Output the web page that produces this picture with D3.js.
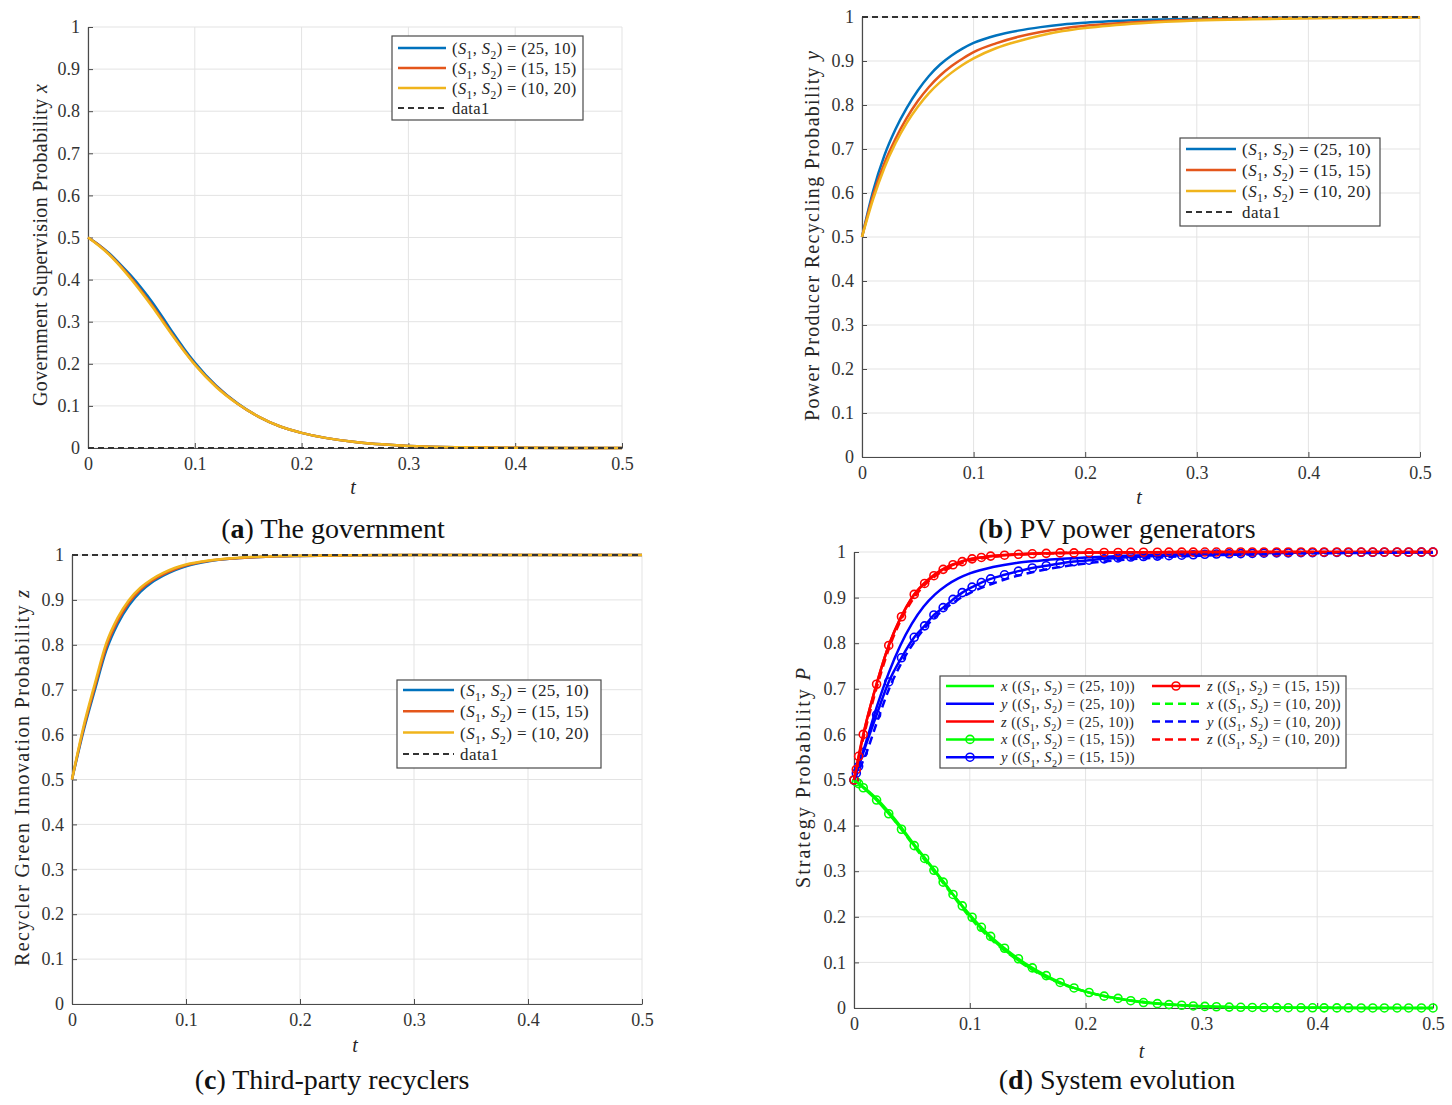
<!DOCTYPE html>
<html>
<head>
<meta charset="utf-8">
<script src="https://cdn.jsdelivr.net/npm/d3@7"></script>
<style>
body { margin: 0; background: #fff; }
svg text { font-family: "Liberation Serif", "Times New Roman", serif; fill: #262626; }
</style>
</head>
<body>
<script>
// ---- data ----
var tGrid = [0, 0.01, 0.02, 0.03, 0.04, 0.05, 0.06, 0.07, 0.08, 0.09, 0.1, 0.12, 0.14, 0.16, 0.18, 0.2, 0.25, 0.3, 0.35, 0.4, 0.45, 0.5];

// (a) government x
var govX_25_10 = [0.5, 0.483, 0.462, 0.437, 0.41, 0.38, 0.347, 0.31, 0.272, 0.236, 0.203, 0.148, 0.106, 0.074, 0.051, 0.036, 0.014, 0.005, 0.0017, 0.0006, 0.0002, 0.0001];
var govX_15_15 = [0.5, 0.482, 0.46, 0.434, 0.405, 0.373, 0.339, 0.303, 0.266, 0.231, 0.199, 0.146, 0.105, 0.074, 0.051, 0.036, 0.014, 0.005, 0.0017, 0.0006, 0.0002, 0.0001];
var govX_10_20 = [0.5, 0.481, 0.459, 0.432, 0.402, 0.37, 0.336, 0.3, 0.264, 0.23, 0.198, 0.145, 0.105, 0.074, 0.051, 0.036, 0.014, 0.005, 0.0017, 0.0006, 0.0002, 0.0001];

// (b) PV power generators y
var pvY_25_10 = [0.5, 0.605, 0.685, 0.745, 0.793, 0.833, 0.866, 0.892, 0.912, 0.928, 0.941, 0.958, 0.969, 0.977, 0.983, 0.987, 0.993, 0.996, 0.998, 0.999, 0.9995, 0.9997];
var pvY_15_15 = [0.5, 0.595, 0.667, 0.723, 0.77, 0.809, 0.841, 0.867, 0.888, 0.905, 0.92, 0.94, 0.955, 0.966, 0.974, 0.98, 0.989, 0.994, 0.997, 0.998, 0.999, 0.9995];
var pvY_10_20 = [0.5, 0.586, 0.657, 0.713, 0.759, 0.796, 0.827, 0.852, 0.873, 0.891, 0.906, 0.929, 0.945, 0.958, 0.968, 0.975, 0.986, 0.992, 0.995, 0.997, 0.998, 0.999];

// (c) third-party recyclers z
var recZ_25_10 = [0.5, 0.607, 0.699, 0.787, 0.846, 0.888, 0.918, 0.939, 0.954, 0.966, 0.975, 0.986, 0.992, 0.995, 0.997, 0.998, 0.9995, 0.9999, 1, 1, 1, 1];
var recZ_15_15 = [0.5, 0.612, 0.706, 0.795, 0.853, 0.894, 0.923, 0.943, 0.957, 0.968, 0.977, 0.987, 0.992, 0.995, 0.997, 0.998, 0.9995, 0.9999, 1, 1, 1, 1];
var recZ_10_20 = [0.5, 0.617, 0.713, 0.803, 0.86, 0.9, 0.927, 0.946, 0.96, 0.971, 0.979, 0.988, 0.993, 0.996, 0.9975, 0.9985, 0.9996, 0.9999, 1, 1, 1, 1];

// dashed reference lines ("data1")
var refT = [0, 0.5];
var refZero = [0, 0];
var refOne = [1, 1];

// (d) system evolution, (25,10) solid and (10,20) dashed on tGrid
var sysX_25_10 = [0.5, 0.481, 0.458, 0.43, 0.399, 0.365, 0.333, 0.301, 0.268, 0.234, 0.202, 0.149, 0.108, 0.076, 0.053, 0.036, 0.013, 0.004, 0.0013, 0.0005, 0.0002, 0.0001];
var sysY_25_10 = [0.5, 0.58, 0.663, 0.735, 0.795, 0.843, 0.88, 0.907, 0.927, 0.942, 0.953, 0.967, 0.976, 0.981, 0.985, 0.988, 0.993, 0.996, 0.998, 0.999, 0.9995, 0.9997];
var sysZ_25_10 = [0.5, 0.62, 0.715, 0.795, 0.855, 0.9, 0.93, 0.952, 0.967, 0.977, 0.984, 0.991, 0.995, 0.997, 0.998, 0.9988, 0.9996, 0.9999, 1, 1, 1, 1];
var sysX_10_20 = [0.5, 0.48, 0.456, 0.427, 0.395, 0.361, 0.328, 0.296, 0.264, 0.231, 0.199, 0.147, 0.107, 0.075, 0.052, 0.036, 0.013, 0.004, 0.0013, 0.0005, 0.0002, 0.0001];
var sysY_10_20 = [0.5, 0.555, 0.628, 0.698, 0.752, 0.795, 0.83, 0.857, 0.878, 0.896, 0.91, 0.931, 0.947, 0.959, 0.968, 0.975, 0.986, 0.992, 0.995, 0.997, 0.998, 0.999];
var sysZ_10_20 = [0.5, 0.612, 0.706, 0.787, 0.848, 0.893, 0.925, 0.947, 0.962, 0.973, 0.981, 0.989, 0.994, 0.996, 0.998, 0.9985, 0.9995, 0.9999, 1, 1, 1, 1];

// (d) (15,15) run with markers, at solver steps
var tD = [0, 0.002, 0.004, 0.008, 0.0195, 0.030, 0.041, 0.052, 0.061, 0.069,
          0.077, 0.0855, 0.0935, 0.102, 0.110, 0.118, 0.130, 0.142, 0.154, 0.166,
          0.178, 0.190, 0.203, 0.216, 0.228, 0.239, 0.250, 0.262, 0.272, 0.283,
          0.293, 0.303, 0.313, 0.324, 0.334, 0.344, 0.354, 0.365, 0.375, 0.386,
          0.396, 0.406, 0.417, 0.427, 0.438, 0.448, 0.458, 0.469, 0.479, 0.490,
          0.5];
var sysX_15_15 = [0.5, 0.496, 0.492, 0.483, 0.456, 0.426, 0.392, 0.356, 0.328, 0.302,
                  0.276, 0.249, 0.224, 0.199, 0.177, 0.157, 0.131, 0.108, 0.088, 0.071,
                  0.056, 0.044, 0.034, 0.026, 0.021, 0.016, 0.012, 0.0095, 0.0075, 0.006,
                  0.0045, 0.0035, 0.0027, 0.002, 0.0016, 0.0012, 0.001, 0.0008, 0.0006, 0.0005,
                  0.0004, 0.0003, 0.00025, 0.0002, 0.00015, 0.0001, 0.0001, 0.0001, 0.0001, 0.0001,
                  0.0001];
var sysY_15_15 = [0.5, 0.515, 0.53, 0.56, 0.643, 0.715, 0.768, 0.813, 0.838, 0.862,
                  0.878, 0.896, 0.911, 0.923, 0.933, 0.941, 0.95, 0.958, 0.965, 0.97,
                  0.975, 0.979, 0.982, 0.985, 0.987, 0.989, 0.99, 0.991, 0.992, 0.993,
                  0.994, 0.995, 0.9955, 0.996, 0.9965, 0.997, 0.9975, 0.998, 0.998, 0.9985,
                  0.9985, 0.999, 0.999, 0.999, 0.9993, 0.9993, 0.9995, 0.9995, 0.9996, 0.9997,
                  0.9997];
var sysZ_15_15 = [0.5, 0.523, 0.552, 0.6, 0.71, 0.795, 0.858, 0.907, 0.931, 0.948,
                  0.962, 0.972, 0.979, 0.985, 0.988, 0.991, 0.993, 0.995, 0.996, 0.997,
                  0.998, 0.998, 0.9985, 0.999, 0.999, 0.9993, 0.9995, 0.9996, 0.9997, 0.9998,
                  0.9998, 0.9999, 0.9999, 0.9999, 1, 1, 1, 1, 1, 1,
                  1, 1, 1, 1, 1, 1, 1, 1, 1, 1,
                  1];

var xTicks = [0, 0.1, 0.2, 0.3, 0.4, 0.5];
var xTickLabels = ["0", "0.1", "0.2", "0.3", "0.4", "0.5"];
var yTicks = [0, 0.1, 0.2, 0.3, 0.4, 0.5, 0.6, 0.7, 0.8, 0.9, 1];
var yTickLabels = ["0", "0.1", "0.2", "0.3", "0.4", "0.5", "0.6", "0.7", "0.8", "0.9", "1"];
var pairs = ["(25, 10)", "(15, 15)", "(10, 20)"];

// ---- drawing ----
var matBlue = "#0072bd", matOrange = "#e4561b", matYellow = "#f0b41c";
var serif = "'Liberation Serif', 'Times New Roman', serif";

var svg = d3.select("body").append("svg")
    .attr("width", 1452)
    .attr("height", 1105)
    .attr("font-family", serif);

function zip(ts, vs) { return ts.map(function(t, i) { return [t, vs[i]]; }); }

function makeAxes(box) {
    var x = d3.scaleLinear().domain([0, 0.5]).range([box.left, box.right]);
    var y = d3.scaleLinear().domain([0, 1]).range([box.bottom, box.top]);
    var g = svg.append("g");

    // grid
    g.append("g").selectAll("line").data(xTicks).join("line")
        .attr("x1", d => x(d)).attr("x2", d => x(d))
        .attr("y1", box.top).attr("y2", box.bottom)
        .style("stroke", "#e3e3e3").style("stroke-width", 1);
    g.append("g").selectAll("line").data(yTicks).join("line")
        .attr("y1", d => y(d)).attr("y2", d => y(d))
        .attr("x1", box.left).attr("x2", box.right)
        .style("stroke", "#e3e3e3").style("stroke-width", 1);

    var ax = g.append("g")
        .attr("transform", "translate(0," + box.bottom + ")")
        .call(d3.axisBottom(x).tickValues(xTicks)
            .tickFormat((d, i) => xTickLabels[i])
            .tickSizeInner(-5).tickSizeOuter(0).tickPadding(box.xpad || 9));
    var ay = g.append("g")
        .attr("transform", "translate(" + box.left + ",0)")
        .call(d3.axisLeft(y).tickValues(yTicks)
            .tickFormat((d, i) => yTickLabels[i])
            .tickSizeInner(-5).tickSizeOuter(0).tickPadding(8));
    [ax, ay].forEach(function(a) {
        a.attr("font-family", serif).attr("font-size", 18);
        a.select(".domain").style("stroke", "#4a4a4a").style("stroke-width", 1.2);
        a.selectAll(".tick line").style("stroke", "#4a4a4a");
        a.selectAll(".tick text")
            .style("font-family", serif)
            .style("font-size", "18px")
            .style("fill", "#333");
    });

    // t label
    g.append("text")
        .attr("x", (box.left + box.right) / 2 - 2)
        .attr("y", box.bottom + box.tlab)
        .attr("text-anchor", "middle")
        .style("font-size", "20px").style("font-style", "italic")
        .text("t");

    // y label
    var yl = g.append("text")
        .attr("transform", "translate(" + box.ylabX + "," + box.ylabY + ") rotate(-90)")
        .attr("text-anchor", "middle")
        .attr("dy", "0.35em")
        .attr("textLength", box.ylabLen).attr("lengthAdjust", "spacing")
        .style("font-size", "20px");
    yl.append("tspan").text(box.ylab + " ");
    yl.append("tspan").style("font-style", "italic").text(box.yvar);

    return { x: x, y: y, g: g };
}

function drawLine(ax, pts, color, width, dash) {
    var line = d3.line().x(d => ax.x(d[0])).y(d => ax.y(d[1])).curve(d3.curveMonotoneX);
    ax.g.append("path").datum(pts)
        .attr("d", line)
        .style("fill", "none")
        .style("stroke", color)
        .style("stroke-width", width)
        .style("stroke-dasharray", dash || null)
        .style("stroke-linejoin", "round");
}

function pairLabel(g, x, y, size, spacing, prefix, pair) {
    var sub = size * 0.3;
    var t = g.append("text").attr("x", x).attr("y", y).attr("dy", "0.35em")
        .style("font-size", size + "px").style("letter-spacing", spacing + "px");
    if (prefix) {
        t.append("tspan").style("font-style", "italic").text(prefix);
        t.append("tspan").text(" ((");
    } else {
        t.append("tspan").text("(");
    }
    t.append("tspan").style("font-style", "italic").text("S");
    t.append("tspan").attr("dy", sub).style("font-size", (size * 0.7) + "px").text("1");
    t.append("tspan").attr("dy", -sub).text(", ");
    t.append("tspan").style("font-style", "italic").text("S");
    t.append("tspan").attr("dy", sub).style("font-size", (size * 0.7) + "px").text("2");
    t.append("tspan").attr("dy", -sub).text(") = " + pair + (prefix ? ")" : ""));
    return t;
}

function simpleLegend(lg) {
    var g = svg.append("g");
    g.append("rect")
        .attr("x", lg.x).attr("y", lg.y).attr("width", lg.w).attr("height", lg.h)
        .style("fill", "#fff").style("stroke", "#4a4a4a").style("stroke-width", 1.2);
    var cols = [matBlue, matOrange, matYellow];
    for (var i = 0; i < 4; i++) {
        var yy = lg.y + lg.first + i * lg.step;
        g.append("line")
            .attr("x1", lg.x + 6).attr("x2", lg.x + 6 + lg.len)
            .attr("y1", yy).attr("y2", yy)
            .style("stroke", i < 3 ? cols[i] : "#333")
            .style("stroke-width", i < 3 ? 2.5 : 2)
            .style("stroke-dasharray", i < 3 ? null : "6,4");
        if (i < 3) pairLabel(g, lg.x + lg.len + 12, yy, lg.size, lg.sp, null, pairs[i]);
        else g.append("text").attr("x", lg.x + lg.len + 12).attr("y", yy).attr("dy", "0.35em")
            .style("font-size", lg.size + "px").style("letter-spacing", lg.sp + "px").text("data1");
    }
}

function caption(cx, cy, letter, rest) {
    var t = svg.append("text").attr("x", cx).attr("y", cy).attr("text-anchor", "middle")
        .style("font-size", "28px").style("fill", "#111");
    t.append("tspan").text("(");
    t.append("tspan").style("font-weight", "bold").text(letter);
    t.append("tspan").text(") " + rest);
}

// (a)
var axA = makeAxes({ left: 88, right: 622, top: 27, bottom: 448, tlab: 46,
    ylabX: 40, ylabY: 245, ylabLen: 322, ylab: "Government Supervision Probability", yvar: "x" });
drawLine(axA, zip(tGrid, govX_25_10), matBlue, 2.5);
drawLine(axA, zip(tGrid, govX_15_15), matOrange, 2.5);
drawLine(axA, zip(tGrid, govX_10_20), matYellow, 2.5);
drawLine(axA, zip(refT, refZero), "#333", 2, "6,4");
simpleLegend({ x: 392, y: 36, w: 191, h: 84, first: 12, step: 20, len: 48, size: 16.5, sp: 0.4 });
caption(333, 538, "a", "The government");

// (b)
var axB = makeAxes({ left: 862, right: 1420, top: 17, bottom: 457, tlab: 47,
    ylabX: 812, ylabY: 236, ylabLen: 370, ylab: "Power Producer Recycling Probability", yvar: "y" });
drawLine(axB, zip(tGrid, pvY_25_10), matBlue, 2.5);
drawLine(axB, zip(tGrid, pvY_15_15), matOrange, 2.5);
drawLine(axB, zip(tGrid, pvY_10_20), matYellow, 2.5);
drawLine(axB, zip(refT, refOne), "#333", 2, "6,4");
simpleLegend({ x: 1180, y: 138, w: 200, h: 88, first: 11, step: 21, len: 50, size: 17, sp: 0.45 });
caption(1117, 538, "b", "PV power generators");

// (c)
var axC = makeAxes({ left: 72, right: 642, top: 555, bottom: 1004, tlab: 48,
    ylabX: 22, ylabY: 778, ylabLen: 376, ylab: "Recycler Green Innovation Probability", yvar: "z" });
drawLine(axC, zip(tGrid, recZ_25_10), matBlue, 2.5);
drawLine(axC, zip(tGrid, recZ_15_15), matOrange, 2.5);
drawLine(axC, zip(tGrid, recZ_10_20), matYellow, 2.5);
drawLine(axC, zip(refT, refOne), "#333", 2, "6,4");
simpleLegend({ x: 397, y: 680, w: 204, h: 88, first: 10, step: 21.3, len: 51, size: 17, sp: 0.45 });
caption(332, 1089, "c", "Third-party recyclers");

// (d)
var axD = makeAxes({ left: 854, right: 1433, top: 552, bottom: 1008, tlab: 50,
    ylabX: 803, ylabY: 778, ylabLen: 220, ylab: "Strategy Probability", yvar: "P" });
var green = "#00ff00", blue = "#0000ff", red = "#ff0000";
drawLine(axD, zip(tGrid, sysX_25_10), green, 2.5);
drawLine(axD, zip(tGrid, sysY_25_10), blue, 2.5);
drawLine(axD, zip(tGrid, sysZ_25_10), red, 2.5);
var runD = [[sysX_15_15, green], [sysY_15_15, blue], [sysZ_15_15, red]];
runD.forEach(function(r) {
    var pts = zip(tD, r[0]);
    drawLine(axD, pts, r[1], 2.5);
    axD.g.append("g").selectAll("circle").data(pts).join("circle")
        .attr("cx", d => axD.x(d[0])).attr("cy", d => axD.y(d[1])).attr("r", 4)
        .style("fill", "none").style("stroke", r[1]).style("stroke-width", 1.6);
});
drawLine(axD, zip(tGrid, sysX_10_20), green, 2.5, "8,5");
drawLine(axD, zip(tGrid, sysY_10_20), blue, 2.5, "8,5");
drawLine(axD, zip(tGrid, sysZ_10_20), red, 2.5, "8,5");

// (d) legend
var legD = svg.append("g");
legD.append("rect").attr("x", 940).attr("y", 676).attr("width", 406).attr("height", 92)
    .style("fill", "#fff").style("stroke", "#4a4a4a").style("stroke-width", 1.2);
var legItems = [
    { v: "x", c: green, p: 0, dash: null, mk: false },
    { v: "y", c: blue, p: 0, dash: null, mk: false },
    { v: "z", c: red, p: 0, dash: null, mk: false },
    { v: "x", c: green, p: 1, dash: null, mk: true },
    { v: "y", c: blue, p: 1, dash: null, mk: true },
    { v: "z", c: red, p: 1, dash: null, mk: true },
    { v: "x", c: green, p: 2, dash: "8,5", mk: false },
    { v: "y", c: blue, p: 2, dash: "8,5", mk: false },
    { v: "z", c: red, p: 2, dash: "8,5", mk: false }
];
legItems.forEach(function(it, i) {
    var col = i < 5 ? 0 : 1, row = i < 5 ? i : i - 5;
    var lx = col === 0 ? 946 : 1152;
    var yy = 686 + row * 17.8;
    legD.append("line").attr("x1", lx).attr("x2", lx + 48).attr("y1", yy).attr("y2", yy)
        .style("stroke", it.c).style("stroke-width", 2.5).style("stroke-dasharray", it.dash);
    if (it.mk) legD.append("circle").attr("cx", lx + 24).attr("cy", yy).attr("r", 4)
        .style("fill", "none").style("stroke", it.c).style("stroke-width", 1.6);
    pairLabel(legD, lx + 55, yy, 14.5, 0.5, it.v, pairs[it.p]);
});
caption(1117, 1089, "d", "System evolution");
</script>
</body>
</html>
